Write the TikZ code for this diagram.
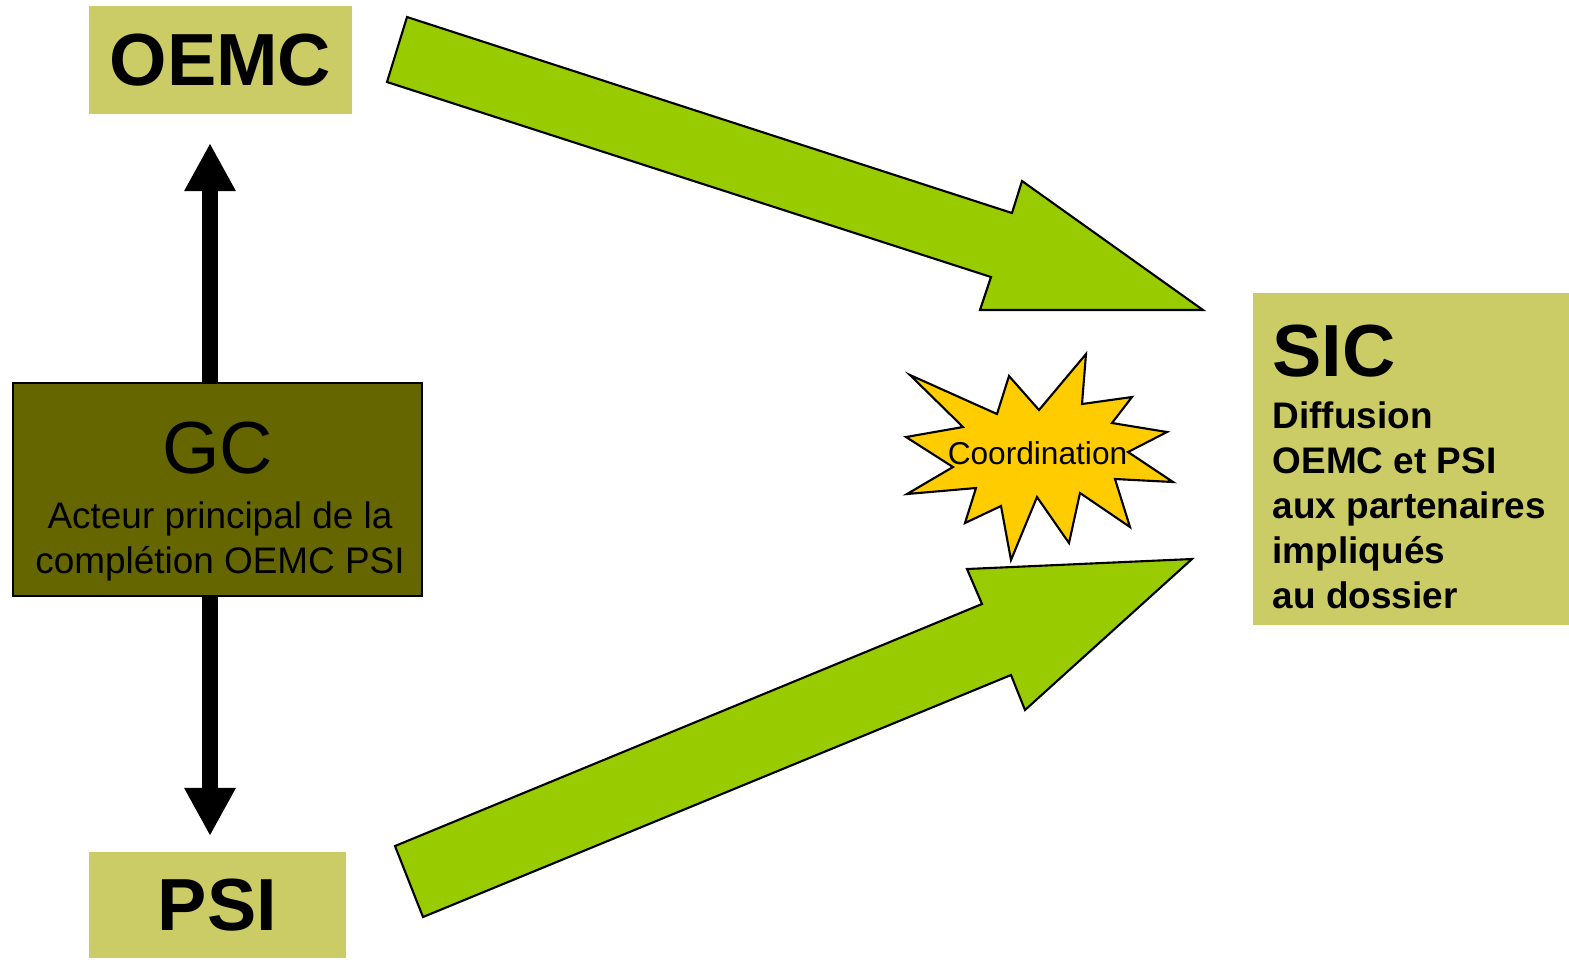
\documentclass[tikz,border=0pt]{standalone}
\usepackage{fontspec}
\setmainfont{Liberation Sans}
\usetikzlibrary{arrows.meta}

\definecolor{boxolive}{HTML}{CCCC66}
\definecolor{gcbrown}{HTML}{666600}
\definecolor{flowgreen}{HTML}{99CC00}
\definecolor{burstyellow}{HTML}{FFCC00}

\begin{document}
\begin{tikzpicture}[
  x=0.01cm, y=-0.01cm,
  box/.style={
    fill=boxolive,
    inner sep=0pt
  },
  bigtitle/.style={
    font=\fontsize{21}{25}\selectfont\bfseries,
    inner sep=0pt
  },
  bodytext/.style={
    font=\fontsize{10.5}{12.8}\selectfont,
    inner sep=0pt
  },
  flow/.style={
    fill=flowgreen,
    draw=black,
    line width=0.6pt,
    line join=miter
  },
  updown/.style={
    line width=0.16cm,
    -{Triangle[width=0.48cm, length=0.48cm]}
  }
]

  \useasboundingbox (0,0) rectangle (1569,959);

  % Source boxes on the left.
  \node[box, bigtitle, minimum width=2.63cm, minimum height=1.08cm] (oemc) at (220.5,60) {OEMC};
  \node[box, bigtitle, minimum width=2.57cm, minimum height=1.06cm] (psi) at (217.5,905) {PSI};

  % Main actor, between the two sources.
  \node[fill=gcbrown, draw=black, line width=0.6pt, minimum width=4.09cm, minimum height=2.13cm] (gc) at (217.5,489.5) {};
  \node[inner sep=0pt, font=\fontsize{21}{25}\selectfont, anchor=base] (gctitle) at (217.5,473) {GC};
  \node[bodytext, align=center, anchor=north] (gctext) at (220,501)
    {Acteur principal de la\\complétion OEMC PSI};

  % Double link from GC to both sources.
  \coordinate (upTip) at (210,143);
  \coordinate (downTip) at (210,836);
  \draw[updown] (gc.north -| upTip) -- (upTip);
  \draw[updown] (gc.south -| downTip) -- (downTip);

  % Target box on the right.
  \node[box, minimum width=3.16cm, minimum height=3.32cm] (sic) at (1411,459) {};
  \node[bigtitle, anchor=base west] (sictitle) at (1272,376) {SIC};
  \node[bodytext, font=\fontsize{10.5}{12.8}\selectfont\bfseries, align=left, anchor=north west] (sictext) at (1272,401)
    {Diffusion\\OEMC et PSI\\aux partenaires\\impliqués\\au dossier};

  % Block arrows towards SIC.
  \draw[flow] (407,17) -- (1012,213) -- (1022,181) -- (1203,310)
    -- (980,310) -- (991,277) -- (387,82) -- cycle;
  \draw[flow] (395,846) -- (982,604) -- (967,569) -- (1192,559)
    -- (1025,710) -- (1011,675) -- (423,917) -- cycle;

  % Coordination burst.
  \draw[fill=burstyellow, draw=black, line width=0.6pt]
    (910,375) -- (997,414) -- (1009,376) -- (1039,410) -- (1086,354)
    -- (1082,404) -- (1132,397) -- (1112,423) -- (1167,432) -- (1128,452)
    -- (1173,482) -- (1115,479) -- (1130,527) -- (1080,493) -- (1069,543)
    -- (1037,497) -- (1011,560) -- (1001,506) -- (965,523) -- (976,488)
    -- (907,494) -- (953,467) -- (906,437) -- (963,427) -- cycle;
  \node[inner sep=0pt, font=\fontsize{9}{11}\selectfont, anchor=base] (coord) at (1037.5,464) {Coordination};

\end{tikzpicture}
\end{document}
